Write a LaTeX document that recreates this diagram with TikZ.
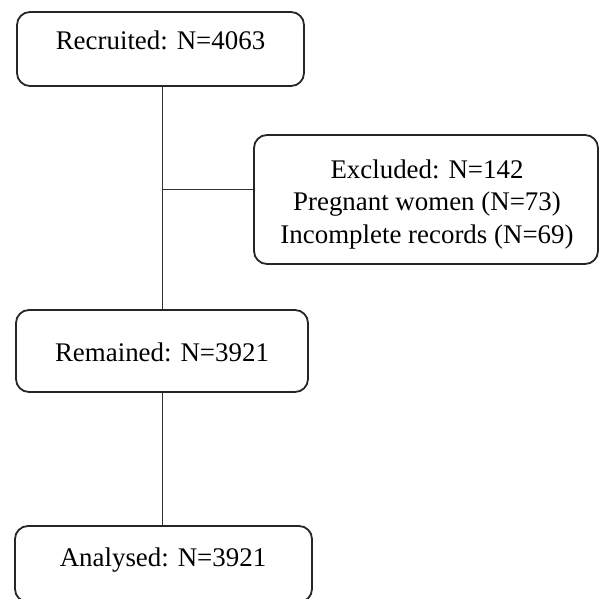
\documentclass[tikz,border=0pt]{standalone}
\usepackage{fontspec}
\setmainfont{Liberation Serif}
\begin{document}
\begin{tikzpicture}[x=1pt,y=-1pt,
  box/.style={draw=black!85, line width=1.8pt, rounded corners=13pt, inner sep=0pt, minimum width=#1},
  lbl/.style={inner sep=0pt, anchor=base, font=\fontsize{26.9}{32.5}\selectfont, align=center},
  conn/.style={draw=black!80, line width=1pt}]
\useasboundingbox (0,0) rectangle (599,599);
% boxes
\node[box=287pt, minimum height=74pt] (rec) at (160.5,49) {};
\node[box=344pt, minimum height=129pt] (exc) at (426,199.5) {};
\node[box=292pt, minimum height=82pt] (rem) at (162,351) {};
\node[box=297pt, minimum height=76pt] (ana) at (163.5,564) {};
% labels
\node[lbl] (recT) at (160.5,50) {Recruited: N=4063};
\node[lbl] (excT) at (427,243) {Excluded: N=142\\Pregnant women (N=73)\\Incomplete records (N=69)};
\node[lbl] (remT) at (162,361) {Remained: N=3921};
\node[lbl] (anaT) at (163,566) {Analysed: N=3921};
% connectors
\coordinate (j) at (162,189);
\draw[conn] (162,0 |- rec.south) -- (162,0 |- rem.north);
\draw[conn] (j) -- (j -| exc.west);
\draw[conn] (162,0 |- rem.south) -- (162,0 |- ana.north);
\end{tikzpicture}
\end{document}
